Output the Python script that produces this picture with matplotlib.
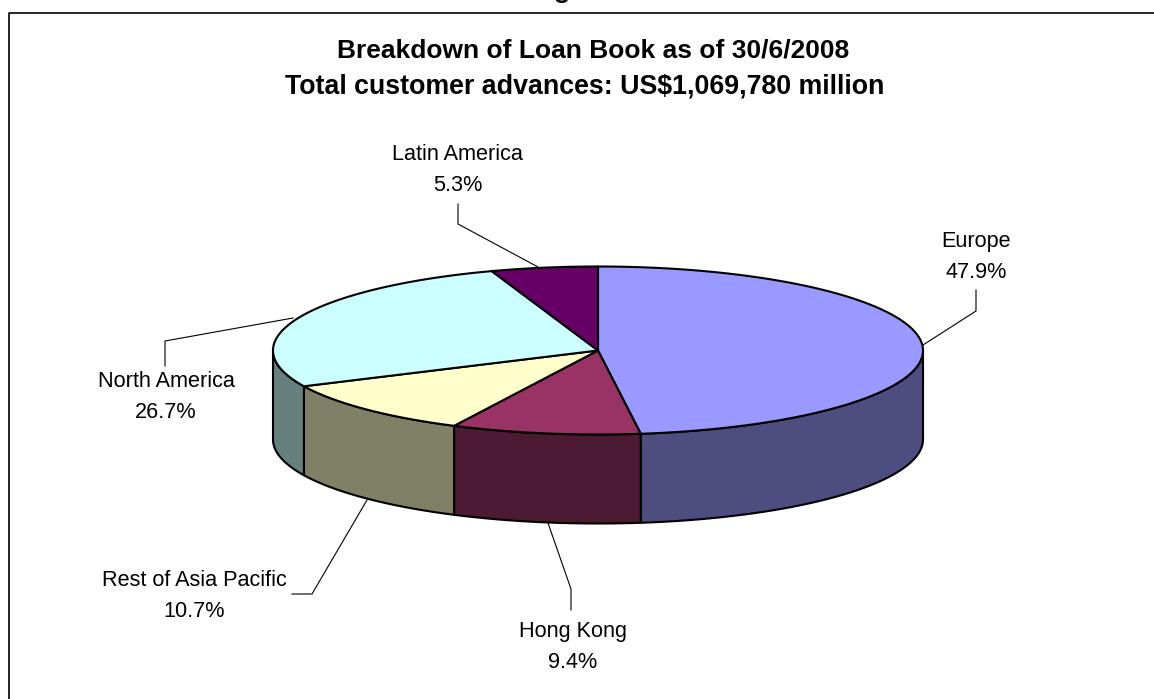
import numpy as np
import matplotlib
matplotlib.use("Agg")
import matplotlib.pyplot as plt
from matplotlib.patches import Polygon

# Loan book by region, clockwise from 12 o'clock
regions = ["Europe", "Hong Kong", "Rest of Asia Pacific", "North America", "Latin America"]
shares = [47.9, 9.4, 10.7, 26.7, 5.3]
top_colors = ["#9999FF", "#993366", "#FFFFCC", "#CCFFFF", "#660066"]
side_colors = ["#4D4D80", "#4D1A33", "#808066", "#668080", "#330033"]

title_lines = ["Breakdown of Loan Book as of 30/6/2008",
               "Total customer advances: US$1,069,780 million"]

W, H = 1154, 699
cx, cy = 598, 350.5
rx, ry = 325, 84
depth = 89

plt.rcParams["font.family"] = ["Liberation Sans", "DejaVu Sans"]
fig = plt.figure(figsize=(W / 100, H / 100), dpi=100)
ax = fig.add_axes([0, 0, 1, 1])
ax.set_xlim(0, W)
ax.set_ylim(H, 0)
ax.axis("off")


def rim(a0, a1, n=200):
    # a0, a1 are degrees clockwise from 12 o'clock
    t = np.radians(np.linspace(a0, a1, n))
    return cx + rx * np.sin(t), cy - ry * np.cos(t)


edges = np.concatenate([[0], np.cumsum(shares)]) * 3.6
edges[-1] = 360

# outer wall, only the front half (90..270) can be seen
for i in range(len(shares)):
    a0 = max(edges[i], 90)
    a1 = min(edges[i + 1], 270)
    if a0 >= a1:
        continue
    x, y = rim(a0, a1)
    pts = np.column_stack([np.r_[x, x[::-1]], np.r_[y, y[::-1] + depth]])
    ax.add_patch(Polygon(pts, closed=True, fc=side_colors[i], ec="black", lw=1.5, joinstyle="round"))

# top of the pie
for i in range(len(shares)):
    x, y = rim(edges[i], edges[i + 1])
    pts = np.column_stack([np.r_[cx, x], np.r_[cy, y]])
    ax.add_patch(Polygon(pts, closed=True, fc=top_colors[i], ec="black", lw=1.5, joinstyle="round"))

# labels and their leader lines
label_pos = [(976, 257), (573, 647), (194.5, 596), (166, 397), (457.5, 170)]
leaders = [[(923, 345), (976, 311), (976, 290)],
           [(548, 523), (571, 589), (571, 610)],
           [(367, 500), (312, 594), (292, 594)],
           [(293, 318), (165, 341), (165, 366)],
           [(538, 267), (458, 224), (458, 204)]]
for name, share, pos, line in zip(regions, shares, label_pos, leaders):
    ax.plot(*zip(*line), color="black", lw=0.8)
    ax.text(pos[0], pos[1], f"{name}\n{share}%", ha="center", va="center",
            fontsize=15.6, linespacing=1.63)

ax.text(593, 50, title_lines[0], ha="center", va="center", fontsize=19, fontweight="bold")
ax.text(584.5, 87, title_lines[1], ha="center", va="center", fontsize=19.3, fontweight="bold")

# heading above the frame runs off the top, only a descender is left
ax.text(562, -2, "g", ha="center", va="baseline", fontsize=19, fontweight="bold")

# chart frame, open on the right and at the bottom
ax.plot([9, 9, W], [H, 12.5, 12.5], color="black", lw=1.2)

fig.savefig("out.png", dpi=100)
